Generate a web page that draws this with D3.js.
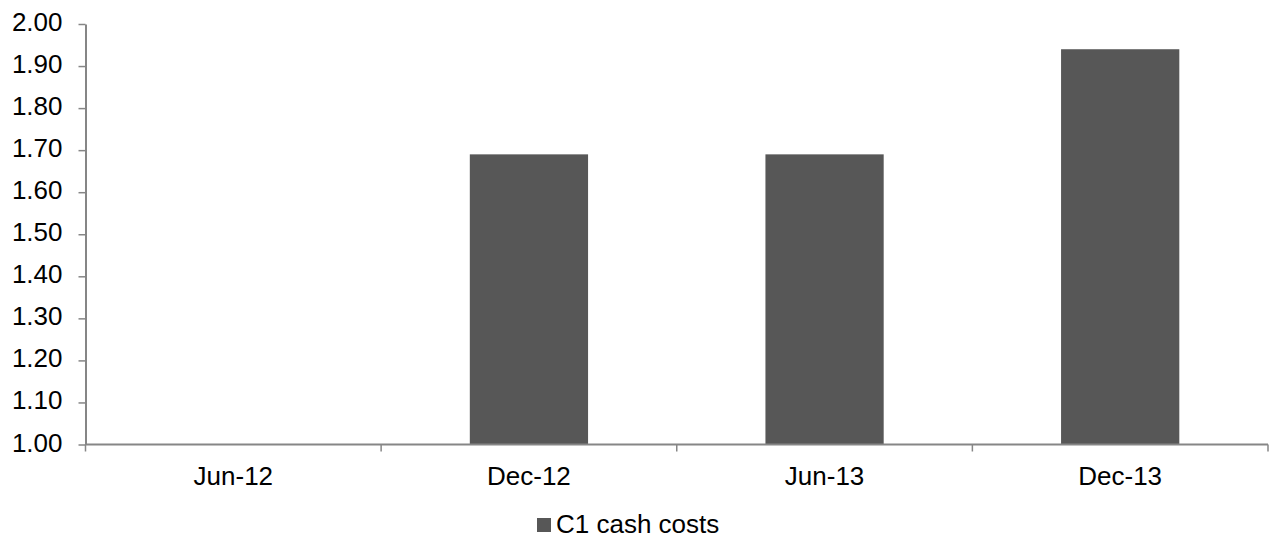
<!DOCTYPE html>
<html>
<head>
<meta charset="utf-8">
<script src="https://cdn.jsdelivr.net/npm/d3@7"></script>
<style>
  html, body { margin: 0; padding: 0; background: #fff; }
  text { font-family: "Liberation Sans", Arial, sans-serif; }
</style>
</head>
<body>
<svg id="chart" width="1274" height="540"></svg>
<script>
// Half-yearly C1 cash costs
const periods = ["Jun-12", "Dec-12", "Jun-13", "Dec-13"];
const c1CashCosts = [null, 1.69, 1.69, 1.94];
const yTicks = [1.0, 1.1, 1.2, 1.3, 1.4, 1.5, 1.6, 1.7, 1.8, 1.9, 2.0];
const seriesName = "C1 cash costs";

const margin = { left: 85.5, right: 6, top: 24, bottom: 95.5 };
const width = 1274, height = 540;
const fontSize = "26px";
const svg = d3.select("#chart");

const x = d3.scaleBand()
  .domain(periods)
  .range([margin.left, width - margin.right])
  .paddingInner(0.6)
  .paddingOuter(0.3);

const y = d3.scaleLinear()
  .domain([1.0, 2.0])
  .range([height - margin.bottom, margin.top]);

const axisColor = "#868686";
const barColor = "#575757";

// bars
svg.append("g")
  .selectAll("rect")
  .data(periods.map((p, i) => ({ p, v: c1CashCosts[i] })).filter(d => d.v != null))
  .join("rect")
  .attr("x", d => x(d.p))
  .attr("width", x.bandwidth())
  .attr("y", d => y(d.v))
  .attr("height", d => y(1.0) - y(d.v))
  .attr("fill", barColor);

// y axis
const yAxis = svg.append("g")
  .attr("transform", `translate(${margin.left},0)`)
  .call(d3.axisLeft(y).tickValues(yTicks).tickFormat(d3.format(".2f")).tickSize(7).tickPadding(16).tickSizeOuter(0));
yAxis.select(".domain").attr("stroke", axisColor).attr("stroke-width", 2);
yAxis.selectAll(".tick line").attr("stroke", axisColor).attr("stroke-width", 1.5);
yAxis.selectAll(".tick text").attr("fill", "#000").attr("dy", "0.25em").style("font-size", fontSize);

// x axis with tick marks at category boundaries
const xAxisG = svg.append("g")
  .attr("transform", `translate(0,${y(1.0)})`);
xAxisG.append("line")
  .attr("x1", margin.left).attr("x2", width - margin.right)
  .attr("stroke", axisColor).attr("stroke-width", 2);
const bounds = periods.map(p => x(p) - x.step() * x.paddingInner() / 2).concat([width - margin.right]);
bounds[0] = margin.left;
xAxisG.selectAll("line.tick")
  .data(bounds)
  .join("line")
  .attr("class", "tick")
  .attr("x1", d => d).attr("x2", d => d)
  .attr("y1", 0).attr("y2", 7)
  .attr("stroke", axisColor).attr("stroke-width", 1.5);
xAxisG.selectAll("text")
  .data(periods)
  .join("text")
  .attr("x", d => x(d) + x.bandwidth() / 2)
  .attr("y", 40)
  .attr("text-anchor", "middle")
  .attr("fill", "#000")
  .style("font-size", fontSize)
  .text(d => d);

// legend
const legend = svg.append("g").attr("transform", "translate(537,518)");
legend.append("rect").attr("width", 14).attr("height", 14).attr("fill", barColor);
legend.append("text")
  .attr("x", 19).attr("y", 15)
  .attr("fill", "#000")
  .style("font-size", fontSize)
  .text(seriesName);
</script>
</body>
</html>
